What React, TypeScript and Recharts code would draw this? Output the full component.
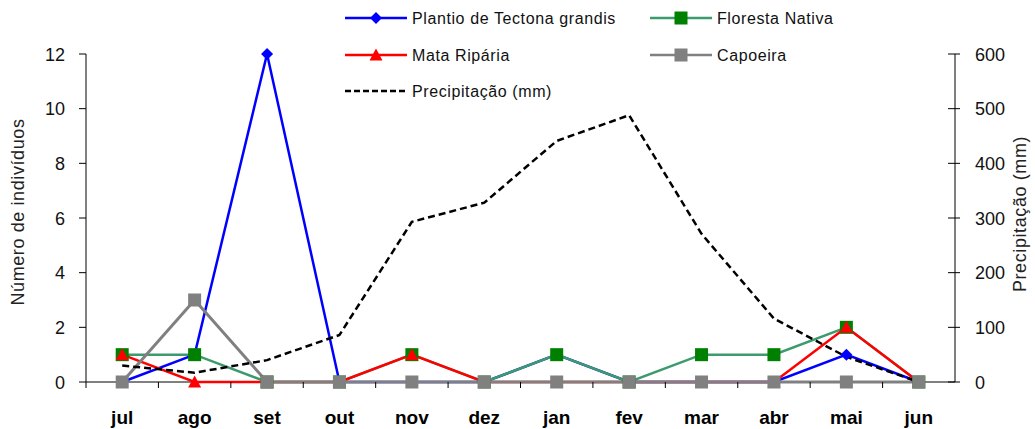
import { LineChart, Line, XAxis, YAxis } from 'recharts';

// monthly survey data
const months = ['jul', 'ago', 'set', 'out', 'nov', 'dez', 'jan', 'fev', 'mar', 'abr', 'mai', 'jun'];
const plantio = [0, 1, 12, 0, 0, 0, 1, 0, 0, 0, 1, 0];
const floresta = [1, 1, 0, 0, 1, 0, 1, 0, 1, 1, 2, 0];
const mata = [1, 0, 0, 0, 1, 0, 0, 0, 0, 0, 2, 0];
const capoeira = [0, 3, 0, 0, 0, 0, 0, 0, 0, 0, 0, 0];
const precip = [30, 17, 40, 86, 293, 328, 441, 488, 271, 116, 46, 0];

const leftTicks = [0, 2, 4, 6, 8, 10, 12];
const rightTicks = [0, 100, 200, 300, 400, 500, 600];

const W = 1035;
const H = 429;
const LEFT_W = 86;
const RIGHT_W = 80;
const TOP = 54;
const X_H = 47;
const STEP = (W - LEFT_W - RIGHT_W) / months.length;
const FONT = '"Liberation Sans", Arial, sans-serif';

const BLUE = '#0000ff';
const GREEN_LINE = '#3c9a6e';
const GREEN = '#008000';
const RED = '#ff0000';
const GRAY = '#808080';

const data = months.map((m, i) => ({
  month: m,
  plantio: plantio[i],
  floresta: floresta[i],
  mata: mata[i],
  capoeira: capoeira[i],
  precip: precip[i],
}));

const diamond = (cx: number, cy: number, fill: string, key?: string) => (
  <polygon key={key} points={`${cx},${cy - 6} ${cx + 6},${cy} ${cx},${cy + 6} ${cx - 6},${cy}`} fill={fill} />
);
const square = (cx: number, cy: number, fill: string, key?: string) => (
  <rect key={key} x={cx - 6.5} y={cy - 6.5} width={13} height={13} fill={fill} />
);
const triangle = (cx: number, cy: number, fill: string, key?: string) => (
  <polygon key={key} points={`${cx},${cy - 6.5} ${cx + 6.5},${cy + 5.5} ${cx - 6.5},${cy + 5.5}`} fill={fill} />
);

const makeDot = (shape: typeof square, fill: string, name: string) => (props: any) => {
  const { cx, cy, index } = props;
  if (cx == null || cy == null) return <g key={`${name}-${index}`} />;
  return shape(cx, cy, fill, `${name}-${index}`);
};

const XTick = (props: any) => {
  const { x, y, payload } = props;
  return (
    <g>
      <line x1={x - STEP / 2} x2={x - STEP / 2} y1={y} y2={y + 6} stroke="#000" />
      <text x={x} y={y + 42} textAnchor="middle" fontFamily={FONT} fontSize={19} fontWeight="bold" fill="#000">
        {payload.value}
      </text>
    </g>
  );
};

const LeftTick = (props: any) => {
  const { x, y, payload } = props;
  return (
    <g>
      <line x1={x - 7} x2={x} y1={y} y2={y} stroke="#000" />
      <text x={x - 21} y={y + 6.5} textAnchor="end" fontFamily={FONT} fontSize={18} fill="#111">
        {payload.value}
      </text>
    </g>
  );
};

const RightTick = (props: any) => {
  const { x, y, payload } = props;
  return (
    <g>
      <line x1={x - 7} x2={x + 5} y1={y} y2={y} stroke="#000" />
      <text x={x + 20} y={y + 6.5} textAnchor="start" fontFamily={FONT} fontSize={18} fill="#111">
        {payload.value}
      </text>
    </g>
  );
};

const legendItems = [
  { label: 'Plantio de Tectona grandis', color: BLUE, marker: diamond, mfill: BLUE, x: 345, y: 18 },
  { label: 'Floresta Nativa', color: GREEN_LINE, marker: square, mfill: GREEN, x: 650, y: 18 },
  { label: 'Mata Ripária', color: RED, marker: triangle, mfill: RED, x: 345, y: 55 },
  { label: 'Capoeira', color: GRAY, marker: square, mfill: GRAY, x: 650, y: 55 },
  { label: 'Precipitação (mm)', color: '#000', marker: null, mfill: '', x: 345, y: 91 },
];

export default function App() {
  const baseY = H - X_H;
  return (
    <div style={{ position: 'absolute', left: 0, top: 0, width: W, height: H, background: '#fff' }}>
      {/* x baseline sits under the series, as in the original */}
      <svg width={W} height={H} style={{ position: 'absolute', left: 0, top: 0 }}>
        <line x1={LEFT_W} x2={W - RIGHT_W} y1={baseY} y2={baseY} stroke="#000" />
      </svg>
      <div style={{ position: 'absolute', left: 0, top: 0 }}>
        <LineChart width={W} height={H} data={data} margin={{ top: TOP, right: 0, bottom: 0, left: 0 }}>
          <XAxis
            dataKey="month"
            height={X_H}
            interval={0}
            padding={{ left: STEP / 2, right: STEP / 2 }}
            tickSize={0}
            tickMargin={0}
            tickLine={false}
            axisLine={false}
            tick={<XTick />}
          />
          <YAxis
            yAxisId="left"
            width={LEFT_W}
            domain={[0, 12]}
            ticks={leftTicks}
            interval={0}
            tickSize={0}
            tickMargin={0}
            tickLine={false}
            axisLine={{ stroke: '#000' }}
            tick={<LeftTick />}
          />
          <YAxis
            yAxisId="right"
            orientation="right"
            width={RIGHT_W}
            domain={[0, 600]}
            ticks={rightTicks}
            interval={0}
            tickSize={0}
            tickMargin={0}
            tickLine={false}
            axisLine={{ stroke: '#000' }}
            tick={<RightTick />}
          />
          <Line yAxisId="left" dataKey="plantio" stroke={BLUE} strokeWidth={2.5} dot={makeDot(diamond, BLUE, 'pl')} isAnimationActive={false} />
          <Line yAxisId="left" dataKey="floresta" stroke={GREEN_LINE} strokeWidth={2.5} dot={makeDot(square, GREEN, 'fl')} isAnimationActive={false} />
          <Line yAxisId="left" dataKey="mata" stroke={RED} strokeWidth={2.5} dot={makeDot(triangle, RED, 'ma')} isAnimationActive={false} />
          <Line yAxisId="left" dataKey="capoeira" stroke={GRAY} strokeWidth={3} dot={makeDot(square, GRAY, 'ca')} isAnimationActive={false} />
          <Line yAxisId="right" dataKey="precip" stroke="#000" strokeWidth={2.5} strokeDasharray="7 4" dot={false} isAnimationActive={false} />
        </LineChart>
      </div>

      <svg width={W} height={H} style={{ position: 'absolute', left: 0, top: 0, pointerEvents: 'none' }}>
        {legendItems.map((it) => (
          <g key={it.label}>
            <line
              x1={it.x}
              x2={it.x + 62}
              y1={it.y}
              y2={it.y}
              stroke={it.color}
              strokeWidth={2.5}
              strokeDasharray={it.marker ? undefined : '6 3'}
            />
            {it.marker && it.marker(it.x + 31, it.y, it.mfill)}
            <text x={it.x + 67} y={it.y + 6} fontFamily={FONT} fontSize={16} letterSpacing={0.6} fill="#111">
              {it.label}
            </text>
          </g>
        ))}
        <text
          transform="translate(24, 212) rotate(-90)"
          textAnchor="middle"
          fontFamily={FONT}
          fontSize={18}
          letterSpacing={0.6}
          fill="#222"
        >
          Número de indivíduos
        </text>
        <text
          transform="translate(1026, 214) rotate(-90)"
          textAnchor="middle"
          fontFamily={FONT}
          fontSize={18}
          letterSpacing={0.6}
          fill="#222"
        >
          Precipitação (mm)
        </text>
      </svg>
    </div>
  );
}
